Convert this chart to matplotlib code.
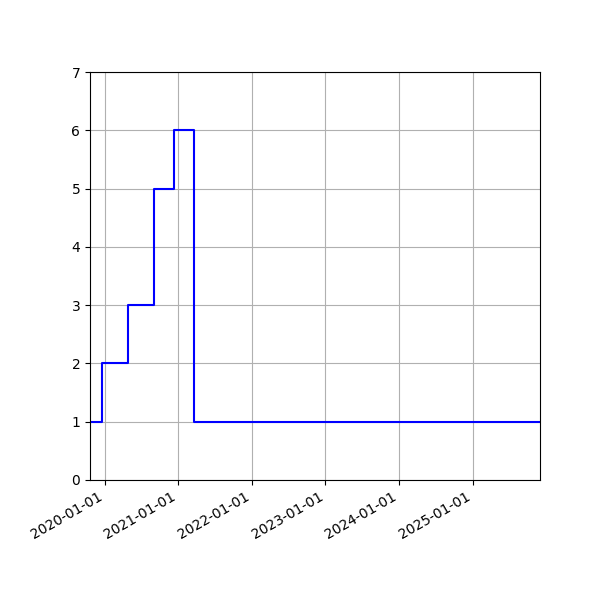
import numpy as np
import pandas as pd
import matplotlib
matplotlib.use('Agg')
import matplotlib.pyplot as plt
import matplotlib.dates as mdates

# dates where the value changes
dates = pd.to_datetime(['2019-10-21', '2019-12-20', '2020-04-29', '2020-09-05',
                        '2020-12-10', '2021-03-18', '2025-12-01'])
values = [1, 2, 3, 5, 6, 1, 1]

fig, ax = plt.subplots(figsize=(6, 6), dpi=100)
ax.plot(dates, values, drawstyle='steps-post', color='blue')
ax.set_xlim(dates[0], dates[-1])
ax.set_ylim(0, 7)
ax.xaxis.set_major_locator(mdates.YearLocator())
ax.xaxis.set_major_formatter(mdates.DateFormatter('%Y-%m-%d'))
ax.grid(True)
fig.autofmt_xdate()
fig.subplots_adjust(left=0.15, right=0.9, top=0.88, bottom=0.2)
fig.savefig('out.png')
